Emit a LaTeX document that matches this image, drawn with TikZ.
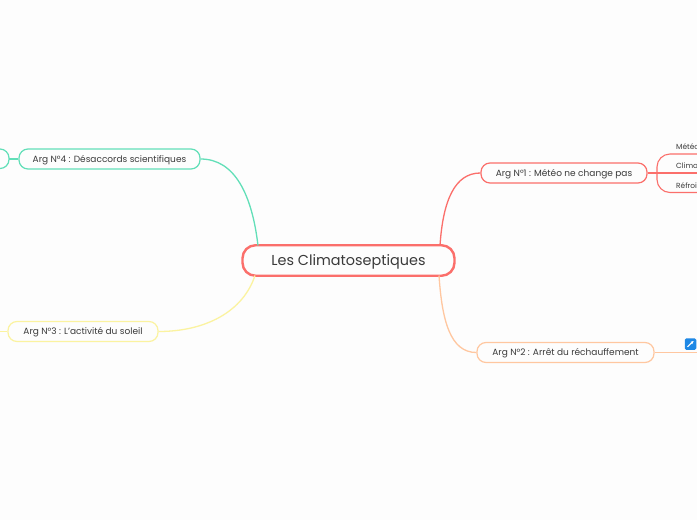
\documentclass[tikz,border=0pt]{standalone}
\usepackage{fontspec}
\usetikzlibrary{arrows.meta}
\setmainfont{Poppins}
\definecolor{pagebg}{HTML}{FDFDFD}
\definecolor{ink}{HTML}{3A3A3A}
\definecolor{cred}{HTML}{FB6F6B}
\definecolor{cteal}{HTML}{62DFB8}
\definecolor{cyel}{HTML}{FBF3A0}
\definecolor{corg}{HTML}{FFC7A0}
\definecolor{cblue}{HTML}{1E88E5}
\tikzset{
  x=1pt,y=-1pt,
  rootbox/.style={draw=cred,line width=2.4pt,rounded corners=13pt,minimum width=212pt,minimum height=30.5pt,inner sep=0pt,text=ink,text height=10.8pt,text depth=1.5pt,font=\fontsize{14.4}{16}\selectfont},
  argbox/.style={line width=1.2pt,rounded corners=9pt,minimum height=20pt,inner sep=0pt,text=ink,text height=7pt,text depth=0.2pt,font=\fontsize{9}{11}\selectfont},
  leaf/.style={anchor=west,inner sep=0pt,text=ink,font=\fontsize{7.4}{9}\selectfont},
  link/.style={line width=1.3pt}
}
\begin{document}
\begin{tikzpicture}
\useasboundingbox (0,0) rectangle (697,520);
\fill[pagebg] (0,0) rectangle (697,520);
\clip (0,0) rectangle (697,520);
% nodes
\node[rootbox] (root) at (348.5,260.5) {Les Climatoseptiques};
\node[argbox,draw=cred,minimum width=166pt] (a1) at (564,173) {Arg N°1 : Météo ne change pas};
\node[argbox,draw=corg,minimum width=177pt] (a2) at (565.5,352.5) {Arg N°2 : Arrêt du réchauffement};
\node[argbox,draw=cyel,minimum width=150pt] (a3) at (83,331.5) {Arg N°3 : L'activité du soleil};
\node[argbox,draw=cteal,minimum width=181pt] (a4) at (109.5,159) {Arg N°4 : Désaccords scientifiques};
\node[leaf] (l1) at (676,147) {Météo};
\node[leaf] (l2) at (676,166) {Clima};
\node[leaf] (l3) at (676,186) {Réfroi};
\node[fill=cblue,rounded corners=1.5pt,minimum size=11.5pt,inner sep=0pt] (ic) at (690.5,344) {};
\draw[white,line width=1.1pt,-{Stealth[length=3pt,width=3pt]}] (687.5,346.8) -- (693.6,341);
% partially visible node on the left edge
\coordinate (s4) at (9,159);
\draw[cteal,line width=1.2pt,rounded corners=9pt] (-20,149) -- (9,149) -- (9,168.5) -- (-20,168.5);
% free ends
\coordinate (r1) at (440,245.5);
\coordinate (r2) at (439,275.5);
\coordinate (r3) at (255,275.5);
\coordinate (r4) at (258,245.5);
\coordinate (e1) at (697,173);
\coordinate (e2) at (697,352.5);
\coordinate (e3) at (0,331.5);
\coordinate (top) at (697,154);
\coordinate (bot) at (697,192.5);
% connectors
\draw[link,cred] (r1) .. controls (443,200) and (455,173) .. (a1.west);
\draw[link,corg] (r2) .. controls (442,320) and (450,352.5) .. (a2.west);
\draw[link,cyel] (r3) .. controls (243,312) and (205,331.5) .. (a3.east);
\draw[link,cteal] (r4) .. controls (252,195) and (235,159) .. (a4.east);
\draw[cred,line width=1.1pt] (a1.east) -- (e1);
\draw[cred,line width=1.1pt,rounded corners=13pt] (top) -- (657,154) -- (657,192.5) -- (bot);
\draw[link,corg] (a2.east) -- (e2);
\draw[link,cyel] (a3.west) -- (e3);
\draw[link,cteal] (a4.west) -- (s4);
\end{tikzpicture}
\end{document}
